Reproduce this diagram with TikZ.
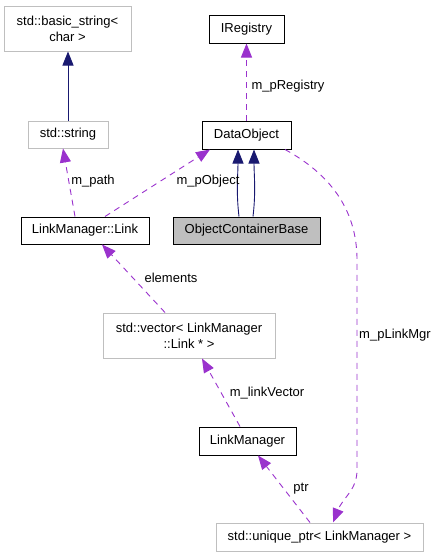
\documentclass[tikz,border=0pt]{standalone}
\usepackage{fontspec}
\setmainfont{Liberation Sans}
\usetikzlibrary{arrows.meta}
\definecolor{orch}{HTML}{9A32CD}
\definecolor{navy}{HTML}{191970}
\definecolor{grey75}{HTML}{BFBFBF}
\begin{document}
\begin{tikzpicture}[x=1pt,y=-1pt,
  box/.style={draw=black,line width=1pt,rectangle,inner sep=0pt,align=center,font=\fontsize{13}{16}\selectfont},
  gbox/.style={box,draw=grey75},
  usearrow/.style={draw=orch,line width=0.9pt,dash pattern=on 6pt off 5pt,-{Triangle[length=14pt,width=11pt,fill=orch]}},
  inharrow/.style={draw=navy,line width=0.9pt,-{Triangle[length=14pt,width=11pt,fill=navy]}},
  lbl/.style={font=\fontsize{13}{16}\selectfont,inner sep=0pt}]
\useasboundingbox (0,0) rectangle (439,557);
\node[gbox,minimum width=127pt,minimum height=45pt] (bs) at (67.5,28.5) {std::basic\_string\textless\\char \textgreater};
\node[gbox,minimum width=80pt,minimum height=27pt] (str) at (68,134.5) {std::string};
\node[box,minimum width=75pt,minimum height=28pt] (ireg) at (246.5,29) {IRegistry};
\node[box,minimum width=89pt,minimum height=28pt] (dobj) at (246.5,135) {DataObject};
\node[box,fill=grey75,minimum width=147pt,minimum height=27pt] (ocb) at (246.5,230.5) {ObjectContainerBase};
\node[box,minimum width=128pt,minimum height=27pt] (link) at (85,230.5) {LinkManager::Link};
\node[gbox,minimum width=172pt,minimum height=45pt] (vec) at (189,335.5) {std::vector\textless{} LinkManager\\::Link * \textgreater};
\node[box,minimum width=97pt,minimum height=28pt] (lm) at (247.5,441) {LinkManager};
\node[gbox,minimum width=207pt,minimum height=28pt] (up) at (319.5,537) {std::unique\_ptr\textless{} LinkManager \textgreater};

\coordinate (b1) at (357,260);
\coordinate (b2) at (357,470);

\draw[inharrow] (str.north) -- (str.north |- bs.south);
\draw[usearrow] ([xshift=-10pt]link.north) -- ([xshift=-5pt]str.south);
\draw[usearrow] ([xshift=20pt]link.north) -- ([xshift=-36.5pt]dobj.south);
\draw[usearrow] (dobj.north) -- (ireg.south);
\draw[inharrow] ([xshift=-7.5pt]ocb.north) .. controls +(-3,-25) and +(0,25) .. ([xshift=-8.5pt]dobj.south);
\draw[inharrow] ([xshift=6.5pt]ocb.north) .. controls +(3,-25) and +(0,25) .. ([xshift=7.5pt]dobj.south);
\draw[usearrow] ([xshift=38.5pt]dobj.south) .. controls +(55,30) and +(0,-40) .. (b1) -- (b2) .. controls +(0,20) and +(10,-25) .. ([xshift=13.5pt]up.north);
\draw[usearrow] ([xshift=-24pt]vec.north) -- ([xshift=17pt]link.south);
\draw[usearrow] ([xshift=-7.5pt]lm.north) -- ([xshift=13pt]vec.south);
\draw[usearrow] ([xshift=-9.5pt]up.north) -- ([xshift=10.5pt]lm.south);

\node[lbl] (l1) at (93,181) {m\_path};
\node[lbl] (l2) at (208,181) {m\_pObject};
\node[lbl] (l3) at (288,86) {m\_pRegistry};
\node[lbl] (l4) at (395,335) {m\_pLinkMgr};
\node[lbl] (l5) at (171,278) {elements};
\node[lbl] (l6) at (267,393) {m\_linkVector};
\node[lbl] (l7) at (301,489) {ptr};
\end{tikzpicture}
\end{document}
